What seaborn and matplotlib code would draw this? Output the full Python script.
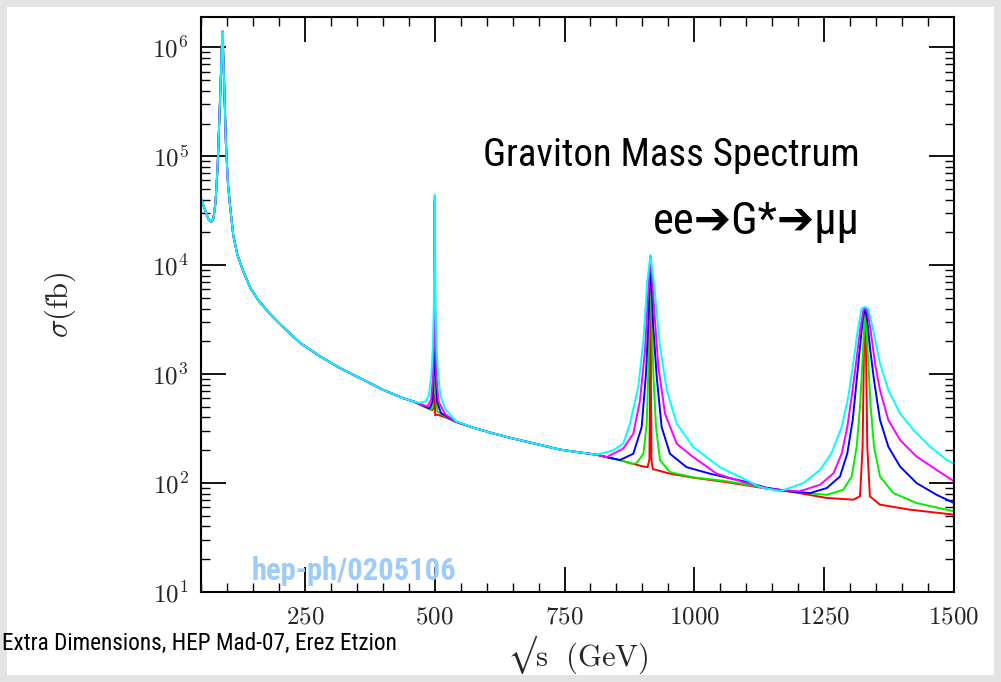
import numpy as np
import pandas as pd
import matplotlib
matplotlib.use("Agg")
import matplotlib.pyplot as plt
import seaborn as sns
from matplotlib import font_manager as fm
from matplotlib.patches import Rectangle
from matplotlib.ticker import MultipleLocator, LogLocator, FuncFormatter, NullFormatter

# sqrt(s) [GeV] and sigma [fb]
# common part: Z pole and continuum up to the first graviton
low_x = [50, 55, 60, 65, 70, 74, 78, 82, 85, 88, 90, 91.5, 93, 95, 98, 102, 106, 112,
         120, 131, 145, 160, 180, 200, 240, 280, 320, 360, 400, 440, 460]
low_y = [4.1e4, 3.5e4, 3.0e4, 2.6e4, 2.5e4, 2.7e4, 3.8e4, 8e4, 2e5, 5e5, 1.0e6, 1.4e6, 8e5,
         4e5, 1.3e5, 5.5e4, 3.5e4, 1.9e4, 1.25e4, 8.9e3, 6.2e3, 4.8e3, 3.7e3, 2.95e3,
         1.95e3, 1.45e3, 1.12e3, 900, 720, 600, 560]

# one curve per graviton width (narrowest = red)
red = [(480, 503), (495, 466), (499.2, 490), (499.8, 1800), (500, 2.0e4), (500.2, 1800),
       (500.8, 420), (505, 425), (520, 402), (541, 365), (575, 322), (610, 288), (650, 257),
       (700, 226), (741, 203), (780, 191), (812, 182), (838, 170), (857, 162), (882, 150),
       (902, 142), (910, 140), (913.5, 165), (914.8, 1000), (915.5, 1.2e4), (916.2, 1000),
       (917.5, 160), (920, 134), (924, 133), (953, 122), (998, 112), (1062, 102), (1139, 89),
       (1191, 82.7), (1255, 73), (1306, 70.4), (1319, 75.6), (1324, 216), (1326.7, 1778),
       (1328.5, 4000), (1330.5, 1778), (1333, 216), (1338, 75.6), (1357.5, 63.4),
       (1415, 57), (1500, 51.3)]

green = [(480, 503), (494, 470), (498.5, 700), (499.6, 3000), (500, 3.0e4), (500.4, 3000),
         (501.5, 700), (505, 455), (520, 410), (541, 365), (575, 322), (610, 288), (650, 257),
         (700, 226), (741, 203), (780, 191), (812, 182), (838, 170), (857, 162), (882, 150),
         (889, 153), (902, 186), (908.2, 351), (911.4, 1010), (913.3, 2913), (915.5, 1.2e4),
         (918.5, 2913), (921, 1010), (926.2, 327), (933.9, 162), (953, 126), (998, 113),
         (1062, 104), (1139, 90), (1191, 83), (1255, 78), (1287, 86.9), (1303, 115),
         (1312.6, 216), (1319, 502), (1323.5, 1250), (1326.7, 2520), (1328.5, 4000),
         (1331.8, 2520), (1335, 1250), (1339.5, 502), (1346, 216), (1357.5, 115), (1383, 81),
         (1428, 65.6), (1500, 55)]

blue = [(475, 520), (490, 485), (496, 560), (498, 1000), (499.3, 4000), (500, 3.8e4),
        (500.7, 4000), (502, 1000), (504.5, 560), (512, 440), (541, 365), (575, 322),
        (610, 288), (650, 257), (700, 226), (741, 203), (780, 191), (812, 182), (838, 170),
        (857, 163), (882.5, 186), (898.6, 327), (906.9, 1010), (911.4, 2913), (915.5, 1.2e4),
        (920.5, 2913), (927.5, 950), (937, 327), (953, 186), (985, 140), (1030, 122),
        (1094, 104), (1139, 90.6), (1191, 83), (1223, 81), (1255, 90), (1280.5, 115),
        (1294.6, 188), (1305, 380), (1312.6, 881), (1319, 1778), (1324, 3120), (1328.5, 4050),
        (1333, 3120), (1338, 1778), (1346, 881), (1357.5, 380), (1373.5, 216), (1396, 142),
        (1428, 100), (1466.6, 78), (1500, 65.6)]

magenta = [(470, 535), (486, 505), (493, 580), (496.5, 900), (498.3, 1800), (499.3, 6000),
           (500, 4.2e4), (500.7, 6000), (501.8, 1800), (503.5, 900), (507.5, 560), (520, 430),
           (541, 366), (575, 322), (610, 288), (650, 257), (700, 226), (741, 203), (780, 191),
           (812, 182), (831, 173), (863, 207), (882.5, 284), (895.4, 575), (905, 1656),
           (911.4, 5900), (915.5, 1.22e4), (922.3, 4150), (930.7, 1164), (943.5, 434),
           (966, 230), (998, 173), (1043, 122), (1094, 102), (1146, 88), (1203, 84),
           (1242, 96.5), (1268, 123), (1284, 188), (1294.6, 330), (1303, 621), (1311.3, 1250),
           (1319, 2520), (1325.4, 3846), (1328.5, 4100), (1333, 3846), (1339.5, 2520),
           (1348, 1250), (1357.5, 714), (1373.5, 380), (1396, 249), (1428, 175),
           (1466.6, 132), (1500, 104)]

cyan = [(470, 545), (482, 560), (489, 640), (493.5, 1000), (496.5, 1800), (498.2, 4000),
        (499.2, 1.2e4), (500, 4.4e4), (500.8, 1.2e4), (501.8, 4000), (503.5, 1800),
        (506.5, 1000), (511, 640), (520, 480), (541, 370), (575, 322), (610, 288), (650, 257),
        (700, 226), (741, 203), (780, 191), (812, 182), (844, 200), (863, 230), (876, 351),
        (892, 763), (902, 2050), (909.5, 7290), (915.5, 1.236e4), (923.6, 5900), (934, 1778),
        (947, 711), (966, 351), (998, 214), (1049, 140), (1101, 106), (1126, 92), (1165, 84),
        (1210, 100), (1242, 132), (1264, 188), (1284, 330), (1296.5, 621), (1306, 1250),
        (1314.5, 2520), (1322, 3990), (1328.5, 4150), (1335, 3990), (1344.6, 2520),
        (1357.5, 1250), (1373.5, 714), (1396, 437), (1422, 307), (1454, 216), (1486, 163),
        (1500, 150)]

curves = {"red": red, "green": green, "blue": blue, "magenta": magenta, "cyan": cyan}
palette = {"red": "#ff0000", "green": "#00f000", "blue": "#0000ff",
           "magenta": "#ff00ff", "cyan": "#00ffff"}

rows = []
for name, pts in curves.items():
    xs = low_x + [p[0] for p in pts]
    ys = low_y + [p[1] for p in pts]
    rows.append(pd.DataFrame({"sqrt_s": xs, "sigma": ys, "curve": name}))
df = pd.concat(rows, ignore_index=True)

# pick a narrow sans font for the slide annotations if one is installed
ttf = fm.fontManager.ttflist
names = {f.name for f in ttf}
cond, stretch = "DejaVu Sans", "normal"
for cand in ["Roboto Condensed", "Liberation Sans Narrow", "Noto Sans Condensed",
             "Open Sans Condensed", "DejaVu Sans Condensed"]:
    if cand in names:
        cond = cand
        break
else:
    for fam in ["DejaVu Sans", "Noto Sans", "Open Sans", "Roboto", "Liberation Sans"]:
        if any(f.name == fam and f.stretch in ("condensed", "semi-condensed") for f in ttf):
            cond, stretch = fam, "condensed"
            break

sns.set_theme(style="ticks")
plt.rcParams["font.family"] = ["DejaVu Sans"]
plt.rcParams["mathtext.fontset"] = "cm"

W, H = 1001, 682
fig = plt.figure(figsize=(W / 100, H / 100), dpi=100, facecolor="#e3e3e3")
fig.patches.append(Rectangle((7 / W, 7 / H), (994 - 7) / W, (675 - 7) / H,
                             transform=fig.transFigure, facecolor="white",
                             edgecolor="none", zorder=-10))

ax = fig.add_axes([201 / W, 1 - 592 / H, (954 - 201) / W, (592 - 17) / H])
ax.set_facecolor("white")

sns.lineplot(data=df, x="sqrt_s", y="sigma", hue="curve", palette=palette,
             hue_order=list(curves), estimator=None, sort=False, legend=False,
             linewidth=1.4, ax=ax)

ax.set_yscale("log")
ax.set_xlim(50, 1500)
ax.set_ylim(10, 1.9e6)

ax.xaxis.set_major_locator(MultipleLocator(250))
ax.xaxis.set_minor_locator(MultipleLocator(50))
ax.yaxis.set_major_locator(LogLocator(base=10, numticks=12))
ax.yaxis.set_minor_locator(LogLocator(base=10, subs=np.arange(2, 10), numticks=12))
ax.yaxis.set_minor_formatter(NullFormatter())
ax.xaxis.set_major_formatter(FuncFormatter(lambda v, p: f"${v:.0f}$"))
ax.yaxis.set_major_formatter(FuncFormatter(lambda v, p: f"$10^{{{int(round(np.log10(v)))}}}$"))

ax.tick_params(which="major", direction="in", length=18, width=1.3, top=True, right=True,
               labelsize=18, color="black", pad=9)
ax.tick_params(which="minor", direction="in", length=6.5, width=1.0, top=True, right=True,
               color="black")
for s in ax.spines.values():
    s.set_color("black")
    s.set_linewidth(1.5)

ax.set_xlabel("$\u221a{\\rm s}\\ \\ ({\\rm GeV})$", fontsize=22, va="center")
ax.xaxis.set_label_coords(0.5, -(655 - 592) / (592 - 17))
ax.set_ylabel(r"$\sigma({\rm fb})$", fontsize=22, va="center")
ax.yaxis.set_label_coords(-(201 - 60) / (954 - 201), 0.5)

fam = [cond, "DejaVu Sans"]
t1 = fig.text(860 / W, 1 - 155 / H, "Graviton Mass Spectrum", ha="right", va="center",
              family=fam, fontstretch=stretch, fontsize=28, color="black")
t3 = fig.text(252 / W, 1 - 571 / H, "hep-ph/0205106", ha="left", va="center",
              family=fam, fontstretch=stretch, fontsize=22, color="#9ecbf7",
              fontweight="bold")
t4 = fig.text(2 / W, 1 - 643 / H, "Extra Dimensions, HEP Mad-07, Erez Etzion",
              ha="left", va="center", family=fam, fontstretch=stretch, fontsize=18,
              color="black")

# scale the annotation sizes so their widths match the slide
renderer = fig.canvas.get_renderer()
for t, target in [(t1, 376), (t3, 205), (t4, 396)]:
    w = t.get_window_extent(renderer).width
    t.set_fontsize(t.get_fontsize() * target / w)

fig.text(860 / W, 1 - 222 / H, "ee\u2794G*\u2794\u03bc\u03bc", ha="right", va="center",
         family=fam, fontstretch=stretch, fontsize=t1.get_fontsize() * 1.15, color="black")

fig.savefig("out.png", dpi=100, facecolor=fig.get_facecolor())
